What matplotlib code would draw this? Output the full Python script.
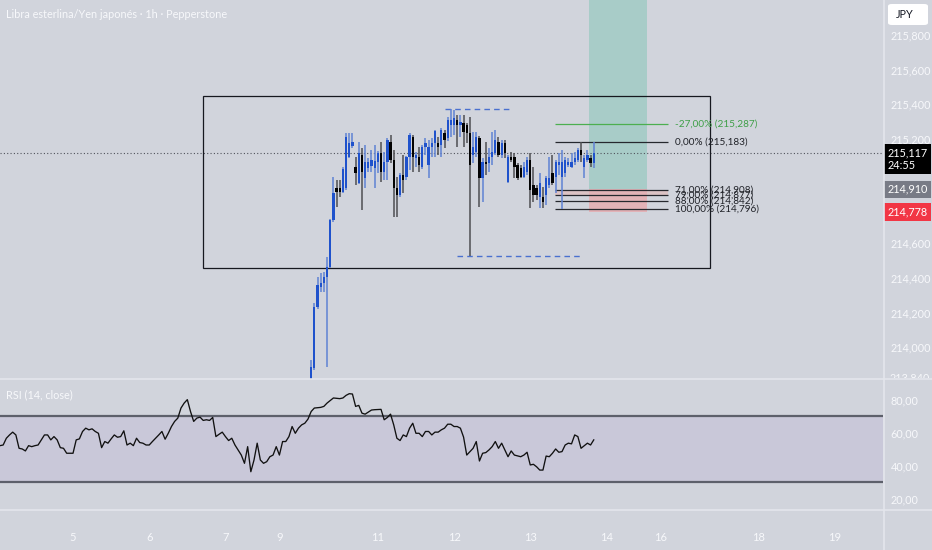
import matplotlib
matplotlib.use('Agg')
import matplotlib.pyplot as plt
from matplotlib.patches import Rectangle, FancyBboxPatch
from matplotlib.lines import Line2D
from matplotlib.transforms import Bbox, TransformedBbox, blended_transform_factory

FONT = ['Lato', 'DejaVu Sans']
plt.rcParams['font.family'] = FONT

# ---- data: 1h candles, x = bar index (0 = day 5, 00:00) ----
bars = list(range(75, 165))
opens = [213.811, 213.880, 214.232, 214.347, 214.370, 214.405, 214.462, 214.733, 214.918, 214.918,
         214.895, 214.918, 215.096, 215.160, 215.039, 214.946, 215.108, 214.975, 215.033, 215.044,
         215.033, 215.067, 215.119, 215.010, 215.067, 215.183, 215.079, 214.918, 214.877, 214.993,
         214.981, 215.096, 215.212, 215.090, 215.096, 215.039, 215.154, 215.050, 215.154, 215.177,
         215.177, 215.165, 215.235, 215.206, 215.281, 215.281, 215.310, 215.281, 215.292, 215.281,
         215.235, 215.108, 215.125, 215.206, 214.975, 215.067, 215.062, 215.096, 215.119, 215.183,
         215.108, 215.177, 214.952, 215.096, 215.096, 215.050, 215.033, 214.981, 215.010, 215.079,
         214.935, 214.918, 214.866, 214.866, 214.877, 214.935, 215.004, 214.981, 215.050, 214.981,
         215.004, 215.050, 215.039, 215.067, 215.079, 215.137, 215.039, 215.079, 215.090, 215.062]
highs = [213.926, 214.255, 214.405, 214.428, 214.433, 214.520, 214.739, 214.981, 214.964, 214.964,
         215.039, 215.235, 215.235, 215.235, 215.096, 215.183, 215.148, 215.165, 215.090, 215.137,
         215.165, 215.131, 215.183, 215.125, 215.206, 215.223, 215.137, 214.981, 215.004, 215.108,
         215.100, 215.235, 215.223, 215.125, 215.154, 215.165, 215.206, 215.194, 215.206, 215.252,
         215.212, 215.263, 215.252, 215.327, 215.372, 215.367, 215.338, 215.338, 215.338, 215.292,
         215.327, 215.240, 215.240, 215.217, 215.090, 215.183, 215.148, 215.240, 215.252, 215.212,
         215.194, 215.194, 215.108, 215.125, 215.119, 215.062, 215.050, 215.067, 215.096, 215.119,
         215.039, 214.935, 215.004, 214.923, 214.987, 215.096, 215.108, 215.079, 215.119, 215.137,
         215.096, 215.090, 215.119, 215.125, 215.148, 215.183, 215.108, 215.137, 215.108, 215.180]
lows = [213.799, 213.869, 214.220, 214.318, 214.318, 213.886, 214.456, 214.722, 214.808, 214.866,
        214.889, 214.906, 215.090, 215.148, 214.935, 214.941, 214.791, 214.918, 215.010, 215.010,
        214.918, 215.004, 214.952, 214.964, 214.964, 215.062, 214.750, 214.750, 214.866, 214.889,
        214.964, 215.021, 215.010, 215.039, 215.010, 215.027, 215.108, 214.975, 215.096, 215.096,
        215.108, 215.096, 215.148, 215.188, 215.212, 215.223, 215.154, 215.212, 215.154, 215.177,
        214.526, 215.062, 215.096, 214.808, 214.837, 214.993, 215.010, 215.050, 215.108, 215.096,
        215.090, 215.090, 214.946, 215.067, 214.975, 214.964, 214.975, 214.975, 214.993, 214.800,
        214.837, 214.848, 214.800, 214.805, 214.820, 214.918, 214.935, 214.889, 214.993, 214.796,
        214.981, 215.039, 215.033, 215.050, 215.067, 215.067, 214.975, 215.067, 215.039, 215.033]
closes = [213.886, 214.232, 214.358, 214.370, 214.405, 214.462, 214.733, 214.889, 214.895, 214.895,
          215.027, 215.212, 215.177, 215.183, 215.004, 215.119, 215.010, 215.067, 215.067, 215.079,
          215.073, 215.119, 215.010, 215.067, 215.194, 215.079, 214.918, 214.877, 214.993, 214.964,
          215.096, 215.223, 215.096, 215.108, 215.050, 215.154, 215.177, 215.154, 215.177, 215.246,
          215.154, 215.252, 215.194, 215.310, 215.310, 215.321, 215.281, 215.298, 215.240, 215.235,
          215.050, 215.154, 215.212, 214.975, 215.067, 215.056, 215.096, 215.125, 215.194, 215.108,
          215.177, 215.119, 215.096, 215.079, 215.039, 214.975, 214.981, 215.039, 215.079, 214.906,
          214.877, 214.877, 214.946, 214.837, 214.975, 214.975, 214.946, 215.067, 215.067, 215.067,
          215.079, 215.067, 215.067, 215.090, 215.137, 215.108, 215.090, 215.108, 215.062, 215.117]

rsi_bars = [-23, -22, -21, -20, -19, -18, -17, -16, -15, -14, -13, -12, -11, -10, -9, -8, -7, -6, -5, -4,
            -3, -2, 0, 1, 2, 3, 4, 5, 6, 7, 8, 9, 10, 11, 12, 13, 14, 15, 16, 17, 18, 19, 20, 21, 22,
            23, 24, 25, 26, 27, 28, 29, 30, 31, 32, 33, 34, 35, 36, 37, 38, 39, 40, 41, 42, 43, 44, 45,
            46, 47, 48, 49, 50, 51, 52, 53, 54, 55, 56, 57, 58, 59, 60, 61, 62, 63, 64, 65, 66, 67, 68,
            69, 70, 71, 72, 73, 74, 75, 76, 78, 79, 80, 82, 84, 85, 86, 87, 88, 89, 90, 91, 92, 94, 95,
            97, 98, 99, 100, 101, 102, 103, 104, 105, 106, 107, 108, 109, 110, 111, 112, 113, 114, 115,
            116, 117, 118, 119, 120, 121, 122, 123, 124, 126, 127, 128, 129, 130, 131, 132, 133, 134,
            135, 136, 137, 138, 139, 141, 142, 143, 144, 145, 146, 147, 148, 149, 150, 151, 152, 153,
            154, 155, 156, 157, 158, 159, 160, 162, 163, 164]
rsi_vals = [52.3, 52.7, 56.8, 58.8, 60.5, 58.8, 50.7, 50.3, 49.1, 52.3, 51.7, 52.3, 52.7, 55.8, 58.8, 58.8,
            55.8, 57.8, 55.8, 51.1, 50.7, 47.7, 47.7, 55.8, 56.4, 60.9, 62.9, 61.9, 62.5, 60.9, 59.8, 51.1,
            54.8, 53.8, 56.4, 58.8, 57.4, 57.8, 61.3, 52.7, 53.8, 52.3, 56.8, 54.2, 53.8, 52.7, 52.7, 54.8,
            56.8, 58.8, 60.9, 56.2, 59.8, 63.9, 67.0, 69.0, 75.1, 78.1, 80.2, 73.0, 67.0, 69.0, 69.6, 67.6,
            68.0, 67.6, 69.4, 57.8, 59.2, 60.5, 57.8, 55.4, 56.8, 52.7, 49.7, 46.6, 41.6, 51.7, 36.5, 43.6,
            53.8, 43.6, 41.6, 42.6, 45.6, 46.6, 51.7, 46.6, 54.8, 54.8, 57.8, 63.9, 59.8, 62.9, 64.9, 65.9,
            68.4, 73.0, 75.1, 75.5, 76.1, 78.1, 81.2, 80.8, 81.2, 82.8, 83.8, 83.6, 76.1, 76.7, 72.0, 71.4,
            73.9, 74.1, 74.3, 68.0, 69.4, 71.4, 64.9, 56.8, 55.4, 58.8, 57.8, 62.9, 65.9, 59.8, 59.8, 57.8,
            60.9, 60.9, 58.8, 60.5, 60.5, 61.9, 62.9, 65.3, 65.3, 63.9, 63.9, 62.9, 57.5, 46.6, 50.7, 54.8,
            43.0, 47.7, 48.1, 49.7, 51.7, 54.8, 50.7, 53.8, 49.7, 45.6, 49.1, 46.6, 45.6, 46.6, 48.3, 40.6,
            41.0, 39.5, 37.5, 37.5, 46.0, 45.6, 47.7, 50.3, 48.3, 48.7, 52.7, 53.8, 53.4, 58.8, 57.8, 50.7,
            53.8, 52.7, 55.8]

day_bars = [0, 24, 48, 65, 96, 120, 144, 168, 185, 216, 240]
day_labels = ['5', '6', '7', '9', '11', '12', '13', '14', '16', '18', '19']
price_ticks = [214.0, 214.2, 214.4, 214.6, 215.2, 215.4, 215.6, 215.8]
edge_price = 213.822
rsi_ticks = [20, 40, 60, 80]

last_price = 215.117
countdown = '24:55'
fib_high, fib_low = 215.183, 214.796
fib_ratios = [-0.27, 0.0, 0.71, 0.79, 0.88, 1.0]
fib_start, fib_end = 151.8, 187.4
entry_price, stop_price = 214.910, 214.778
pos_start, pos_end = 162.5, 180.8
range_high, range_high_span = 215.372, (117.2, 137.6)
range_low, range_low_span = 214.526, (121.0, 160.6)
box_left, box_right, box_top, box_bottom = 40.9, 200.6, 215.448, 214.456

BG = '#d1d4dc'
UP = '#1f52cc'
UP_WICK = '#5f82d4'
DOWN = '#030303'
DOWN_WICK = '#4e4e52'
TXT = '#f7f8fb'

W, H = 932, 550
fig = plt.figure(figsize=(W / 100, H / 100), dpi=100)
fig.patch.set_facecolor(BG)

ax = fig.add_axes([0, 1 - 379 / H, 883 / W, 379 / H])
rx = fig.add_axes([0, 1 - 510 / H, 883 / W, 130 / H])
for a in (ax, rx):
    a.set_facecolor(BG)
    for s in a.spines.values():
        s.set_visible(False)
    a.set_xlim(-23, 255.1)

# ---- price panel ----
ax.set_ylim(213.817, 216.001)

# drawing tools
ax.add_patch(Rectangle((box_left, box_bottom), box_right - box_left, box_top - box_bottom,
                       fill=False, ec='#16181f', lw=0.9, zorder=2))
fib_levels = [fib_high - r * (fib_high - fib_low) for r in fib_ratios]
ax.add_patch(Rectangle((fib_start, fib_levels[3]), fib_end - fib_start, fib_levels[2] - fib_levels[3],
                       fc='#dcc3c5', ec='none', zorder=1))
ax.add_patch(Rectangle((pos_start, entry_price), pos_end - pos_start, 2.0,
                       fc='#a8ccc8', ec='none', zorder=1.2))
ax.add_patch(Rectangle((pos_start, stop_price), pos_end - pos_start, entry_price - stop_price,
                       fc='#e2b2b7', ec='none', zorder=1.2))
for r, lvl in zip(fib_ratios, fib_levels):
    col = '#4caf50' if r < 0 else '#26282e'
    ax.hlines(lvl, fib_start, fib_end, colors=col, lw=0.9, zorder=2)
    lab = f"{r * 100:.2f}% ({lvl:.3f})".replace('.', ',')
    ax.text(fib_end + 2.2, lvl, lab, color='#3f9f48' if r < 0 else '#202228',
            fontsize=7.2, va='center', ha='left', zorder=4)

ax.hlines(range_high, *range_high_span, colors='#4a70cf', linestyles=(0, (4, 3)), lw=1, zorder=2)
ax.hlines(range_low, *range_low_span, colors='#4a70cf', linestyles=(0, (4, 3)), lw=1, zorder=2)
ax.axhline(last_price, color='#50535c', lw=0.8, ls=(0, (1, 2)), zorder=1.5)

# candles
up = [c >= o for o, c in zip(opens, closes)]
ax.vlines(bars, lows, highs, colors=[UP_WICK if u else DOWN_WICK for u in up], lw=1.1, zorder=3)
bottoms = [min(o, c) for o, c in zip(opens, closes)]
heights = [max(abs(c - o), 0.005) for o, c in zip(opens, closes)]
ax.bar(bars, heights, bottom=bottoms, width=0.72, color=[UP if u else DOWN for u in up],
       edgecolor='none', zorder=3.5)

ax.yaxis.tick_right()
ax.set_yticks(price_ticks)
ax.set_yticklabels([f"{v:.3f}".replace('.', ',') for v in price_ticks])
ax.tick_params(axis='y', length=0, pad=5.5, labelsize=7.8, labelcolor=TXT)
ax.set_xticks([])

tr = blended_transform_factory(ax.transAxes, ax.transData)
ax.annotate(f"{last_price:.3f}".replace('.', ',') + '\n' + countdown, xy=(1, last_price), xycoords=tr,
            xytext=(4.5, 6), textcoords='offset pixels', ha='left', va='top', color='white',
            fontsize=7.8, linespacing=1.15, annotation_clip=False, zorder=6,
            bbox=dict(boxstyle='square,pad=0.3', fc='#000000', ec='none'))
ax.text(1 + 4.5 / 883, entry_price, f"{entry_price:.3f}".replace('.', ','), transform=tr,
        ha='left', va='center', color='white', fontsize=7.8, clip_on=False, zorder=6,
        bbox=dict(boxstyle='square,pad=0.3', fc='#787b86', ec='none'))
ax.text(1 + 4.5 / 883, stop_price, f"{stop_price:.3f}".replace('.', ','), transform=tr,
        ha='left', va='center', color='white', fontsize=7.8, clip_on=False, zorder=6,
        bbox=dict(boxstyle='square,pad=0.3', fc='#f23645', ec='none'))

# lowest price label, cut by the panel border
t = ax.text(1 + 7 / 883, edge_price, f"{edge_price + 0.018:.3f}".replace('.', ','), transform=tr,
            ha='left', va='center', color=TXT, fontsize=7.8, zorder=2)
t.set_clip_box(TransformedBbox(Bbox([[0, 1 - 378 / H], [1, 1]]), fig.transFigure))
t.set_clip_on(True)

# ---- RSI panel ----
rx.set_ylim(13.3, 92.1)
rx.axhspan(30, 70, color='#c9c8d9', zorder=0.5, lw=0)
rx.axhline(70, color='#5d606b', lw=1.6, zorder=1)
rx.axhline(30, color='#5d606b', lw=1.6, zorder=1)
rx.plot(rsi_bars, rsi_vals, color='#111111', lw=0.95, zorder=2)
rx.yaxis.tick_right()
rx.set_yticks(rsi_ticks)
rx.set_yticklabels([f"{v:.2f}".replace('.', ',') for v in rsi_ticks])
rx.tick_params(axis='y', length=0, pad=5.5, labelsize=7.8, labelcolor=TXT)
rx.set_xticks(day_bars)
rx.set_xticklabels(day_labels)
rx.tick_params(axis='x', length=0, pad=16, labelsize=8, labelcolor=TXT)

# ---- frame lines, header texts ----
for y in (379, 510):
    fig.add_artist(Line2D([0, 1], [1 - y / H, 1 - y / H], transform=fig.transFigure,
                          color='#e4e6ec', lw=1.2))
fig.add_artist(Line2D([883.5 / W, 883.5 / W], [0, 1], transform=fig.transFigure, color='#e4e6ec', lw=1.2))

fig.text(6 / W, 1 - 15 / H, 'Libra esterlina/Yen japonés · 1h · Pepperstone', color=TXT,
         fontsize=7.8, va='center', ha='left')
fig.text(6 / W, 1 - 395 / H, 'RSI (14, close)', color=TXT, fontsize=7.8, va='center', ha='left')

fig.add_artist(FancyBboxPatch((888 / W, 1 - 25 / H), 40 / W, 21 / H, transform=fig.transFigure,
                              boxstyle='round,pad=0,rounding_size=0.004', fc='white', ec='none'))
fig.text(896 / W, 1 - 14.5 / H, 'JPY', color='#131722', fontsize=7.8, va='center', ha='left')

fig.savefig('out.png', dpi=100, facecolor=BG)
